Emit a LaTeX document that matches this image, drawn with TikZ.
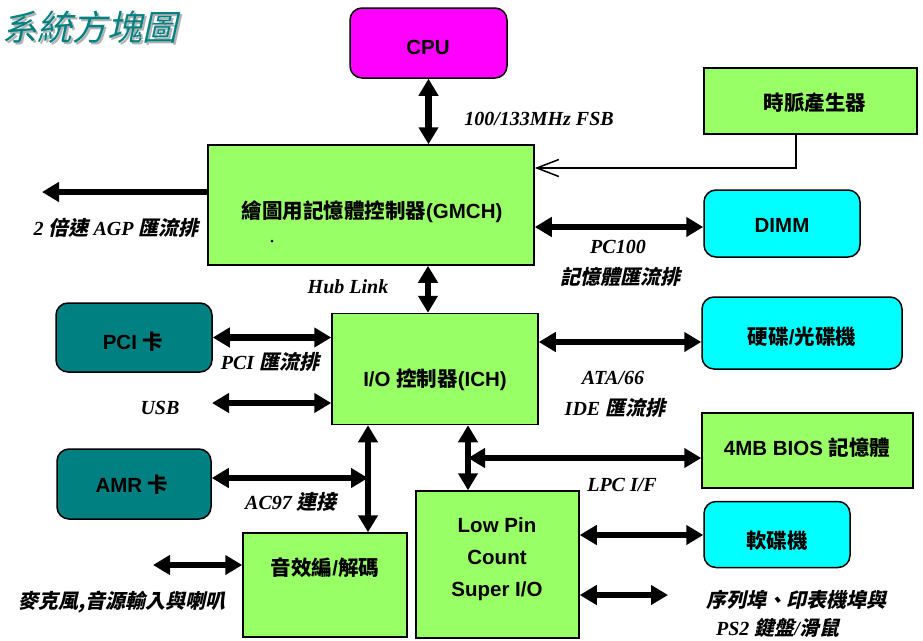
\documentclass[tikz,border=0pt]{standalone}
\usepackage{fontspec}
\setmainfont{Liberation Sans}
\newfontfamily\cjk{Noto Sans CJK TC}
\newfontfamily\cjksl{Noto Sans CJK TC}[FakeSlant=0.22]
\newfontfamily\tms{Liberation Serif}
\usetikzlibrary{arrows.meta}
\definecolor{vgreen}{HTML}{99FF66}
\definecolor{vcyan}{HTML}{00FFFF}
\definecolor{vmag}{HTML}{FF00FF}
\definecolor{vteal}{HTML}{008080}
\newcommand\C[1]{{\cjk #1}}
\newcommand\LC[1]{{\cjksl #1}}
\begin{document}
\begin{tikzpicture}[x=1pt,y=-1pt,
  box/.style={draw=black, line width=1.5pt, inner sep=0pt},
  rbox/.style={box, rounded corners=12pt},
  btxt/.style={inner sep=0pt, font=\bfseries\fontsize{20.5}{32}\selectfont, align=center},
  lab/.style={inner sep=0pt, font=\tms\bfseries\itshape\fontsize{20}{24}\selectfont},
  dbl/.style={line width=6.5pt, {Triangle[length=17pt,width=19pt]}-{Triangle[length=17pt,width=19pt]}},
  sgl/.style={line width=6.5pt, -{Triangle[length=17pt,width=19pt]}},
  thinarr/.style={line width=1.5pt, -{Straight Barb[length=22pt,width=17pt,line width=1.5pt]}}
  ]
\useasboundingbox (0,0) rectangle (923,640);

% title
\node[inner sep=0pt, text=black!30, font=\cjksl\mdseries\fontsize{35}{40}\selectfont] (titleshadow) at (92,29) {系統方塊圖};
\node[inner sep=0pt, text=vteal, font=\cjksl\mdseries\fontsize{35}{40}\selectfont] (title) at (90,27) {系統方塊圖};

% boxes
\node[rbox, fill=vmag, minimum width=157pt, minimum height=70pt] (cpu) at (428.5,43) {};
\node[box, fill=vgreen, minimum width=326pt, minimum height=120pt] (gmch) at (371,205) {};
\node[box, fill=vgreen, minimum width=213pt, minimum height=66pt] (clk) at (810.5,101) {};
\node[rbox, fill=vcyan, minimum width=156pt, minimum height=67pt] (dimm) at (782,223.5) {};
\node[box, fill=vgreen, minimum width=206pt, minimum height=111pt] (ich) at (435,369) {};
\node[rbox, fill=vteal, minimum width=156pt, minimum height=69pt] (pci) at (134,337.5) {};
\node[rbox, fill=vcyan, minimum width=200pt, minimum height=72pt] (hdd) at (802,333) {};
\node[box, fill=vgreen, minimum width=211pt, minimum height=75pt] (bios) at (807.5,450.5) {};
\node[rbox, fill=vteal, minimum width=154pt, minimum height=70pt] (amr) at (134,484) {};
\node[box, fill=vgreen, minimum width=164pt, minimum height=104pt] (audio) at (325,585) {};
\node[box, fill=vgreen, minimum width=163pt, minimum height=147pt] (sio) at (497.5,564.5) {};
\node[rbox, fill=vcyan, minimum width=146pt, minimum height=66pt] (fdd) at (777,534.5) {};

% box texts
\node[btxt] (cputxt) at (428,47) {CPU};
\node[btxt] (gmchtxt) at (372,212) {\C{繪圖用記憶體控制器}(GMCH)};
\fill (272,241) circle (1.5pt);
\node[btxt] (clktxt) at (815,103) {\C{時脈產生器}};
\node[btxt] (dimmtxt) at (782,225) {DIMM};
\node[btxt] (icht) at (435,380) {I/O \C{控制器}(ICH)};
\node[btxt] (pcitxt) at (133,342) {PCI \C{卡}};
\node[btxt] (hddtxt) at (802,337) {\C{硬碟}/\C{光碟機}};
\node[btxt] (biostxt) at (807,448) {4MB BIOS \C{記憶體}};
\node[btxt] (amrtxt) at (132,485) {AMR \C{卡}};
\node[btxt] (audiotxt) at (325,568) {\C{音效編}/\C{解碼}};
\node[btxt] (siotxt) at (497,559) {Low Pin\\Count\\Super I/O};
\node[btxt] (fddtxt) at (777,541) {\C{軟碟機}};

% labels
\node[lab] (fsb) at (539,119) {100/133MHz FSB};
\node[lab] (agp) at (116,228) {2 \LC{倍速} AGP \LC{匯流排}};
\node[lab] (pc100) at (618,247) {PC100};
\node[lab] (memb) at (620,277) {\LC{記憶體匯流排}};
\node[lab] (hub) at (348,287) {Hub Link};
\node[lab] (pcib) at (270,362) {PCI \LC{匯流排}};
\node[lab] (usb) at (160,408) {USB};
\node[lab] (ata) at (613,378) {ATA/66};
\node[lab] (ide) at (615,408) {IDE \LC{匯流排}};
\node[lab] (lpcl) at (622,485) {LPC I/F};
\node[lab] (ac97) at (291,502) {AC97 \LC{連接}};
\node[lab] (mic) at (122,602) {\LC{麥克風,音源輸入與喇叭}};
\node[lab] (ser) at (796,600) {\LC{序列埠、印表機埠與}};
\node[lab] (ps2) at (778,628) {PS2 \LC{鍵盤}/\LC{滑鼠}};

% helper coordinates
\coordinate (hubx) at (428,0);
\coordinate (agpL) at (42,192);
\coordinate (clkturn) at (796,168);
\coordinate (dimmy) at (0,227);
\coordinate (usbL) at (212,403);
\coordinate (hddy) at (0,342);
\coordinate (acx) at (368,0);
\coordinate (amry) at (0,478);
\coordinate (lpcx) at (468,0);
\coordinate (lpcy) at (0,458);
\coordinate (fddy) at (0,535);
\coordinate (serR) at (668,595);
\coordinate (micL) at (153,565);

% connectors
\draw[dbl] (cpu.south) -- (cpu.south |- gmch.north);
\draw[dbl] (hubx |- gmch.south) -- (hubx |- ich.north);
\draw[sgl] (agpL -| gmch.west) -- (agpL);
\draw[thinarr] (clkturn |- clk.south) -- (clkturn) -- (clkturn -| gmch.east);
\draw[dbl] (dimmy -| gmch.east) -- (dimmy -| dimm.west);
\draw[dbl] (pci.east) -- (pci.east -| ich.west);
\draw[dbl] (usbL) -- (usbL -| ich.west);
\draw[dbl] (hddy -| ich.east) -- (hddy -| hdd.west);
\draw[dbl] (acx |- ich.south) -- (acx |- audio.north);
\draw[dbl] (amry -| amr.east) -- (amry -| acx);
\draw[dbl] (lpcx |- ich.south) -- (lpcx |- sio.north);
\draw[dbl] (lpcx |- lpcy) -- (lpcy -| bios.west);
\draw[dbl] (fddy -| sio.east) -- (fddy -| fdd.west);
\draw[dbl] (serR -| sio.east) -- (serR);
\draw[dbl] (micL) -- (micL -| audio.west);
\end{tikzpicture}
\end{document}
